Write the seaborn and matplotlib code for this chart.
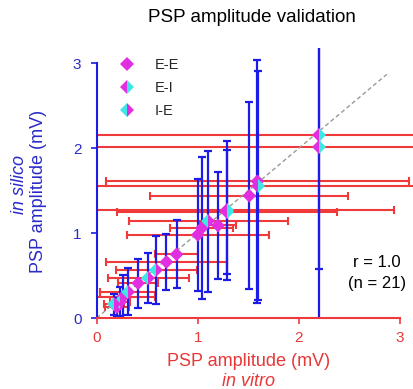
import matplotlib
matplotlib.use("Agg")
import matplotlib.pyplot as plt
from matplotlib.lines import Line2D
import seaborn as sns
import numpy as np
import pandas as pd

# ---- data ----
in_vitro = [2.20, 2.20, 1.59, 1.60, 1.51, 1.29, 1.29, 1.20, 1.105, 1.04, 1.00,
            0.79, 0.69, 0.59, 0.51, 0.41, 0.31, 0.26, 0.23, 0.20, 0.17]
in_silico = [2.16, 2.01, 1.61, 1.56, 1.44, 1.27, 1.245, 1.09, 1.14, 1.06, 0.98,
             0.75, 0.66, 0.565, 0.47, 0.41, 0.31, 0.25, 0.19, 0.13, 0.16]
sd_vitro = [2.30, 2.30, 1.50, 1.75, 0.98, 1.65, 1.09, 0.18, 0.79, 0.31, 0.70,
            0.21, 0.60, 0.40, 0.40, 0.20, 0.28, 0.32, 0.10, 0.115, 0.10]
sd_silico = [1.58, 2.10, 1.43, 1.35, 1.10, 0.82, 0.73, 0.63, 0.83, 0.84, 0.66,
             0.40, 0.33, 0.40, 0.29, 0.29, 0.28, 0.26, 0.17, 0.11, 0.12]
conn_type = ["E-I", "E-I", "E-E", "E-I", "E-E", "E-I", "E-I", "E-E", "I-E", "E-E", "E-E",
             "E-E", "E-E", "I-E", "I-E", "E-E", "I-E", "E-E", "I-E", "E-E", "I-E"]
type_names = ["E-E", "E-I", "I-E"]
ticks = [0, 1, 2, 3]
r_text = "r = 1.0\n(n = 21)"

df = pd.DataFrame({"vitro": in_vitro, "silico": in_silico,
                   "sd_vitro": sd_vitro, "sd_silico": sd_silico, "type": conn_type})

MAG = "#e02ee0"
CYA = "#3fe6e6"
RED = "#f03a3a"
BLUE = "#1c1ce6"
BLUE_TXT = "#2b2bc8"
RED_TXT = "#e83838"

sns.set_style("ticks")
plt.rcParams["font.family"] = ["Liberation Sans", "DejaVu Sans"]

fig = plt.figure(figsize=(4.14, 3.89), dpi=100)
ax = fig.add_axes([0.2336, 0.1825, 0.7665, 0.694])
ax.set_xlim(0, 3.14)
ax.set_ylim(0, 3.18)

# error bars
ax.errorbar(df["vitro"], df["silico"], xerr=df["sd_vitro"], fmt="none",
            ecolor=RED, elinewidth=1.5, capsize=2.6, capthick=1.5, zorder=2)
ax.errorbar(df["vitro"], df["silico"], yerr=df["sd_silico"], fmt="none",
            ecolor=BLUE, elinewidth=1.6, capsize=2.6, capthick=1.6, zorder=3)

# identity line
sns.lineplot(x=[0, 2.87], y=[0, 2.87], ax=ax, color="#999999", lw=1.0,
             dashes=False, linestyle=(0, (3, 2)), zorder=4)

MS = 7.0
style = {
    "E-E": dict(marker="D", markerfacecolor=MAG, fillstyle="full"),
    "E-I": dict(marker="D", markerfacecolor=MAG, markerfacecoloralt=CYA, fillstyle="left"),
    "I-E": dict(marker="D", markerfacecolor=CYA, markerfacecoloralt=MAG, fillstyle="left"),
}
ee = df[df["type"] == "E-E"]
sns.scatterplot(data=ee, x="vitro", y="silico", ax=ax, marker="D", s=MS**2,
                color=MAG, edgecolor="none", linewidth=0, zorder=5, legend=False)
for t in ["E-I", "I-E"]:
    sub = df[df["type"] == t]
    ax.plot(sub["vitro"], sub["silico"], linestyle="none", markersize=MS,
            markeredgewidth=0, zorder=5, **style[t])
ax.set_xlabel("")
ax.set_ylabel("")

handles = [Line2D([], [], linestyle="none", markersize=MS, markeredgewidth=0, **style[t])
           for t in type_names]
leg = ax.legend(handles, type_names, loc="upper left", bbox_to_anchor=(0.055, 0.983),
                frameon=False, fontsize=10.5, handletextpad=1.4, labelspacing=0.6,
                handlelength=1.0, borderaxespad=0)

ax.text(2.77, 0.53, r_text, ha="center", va="center", fontsize=12,
        color="black", linespacing=1.5)

# spines / ticks
sns.despine(ax=ax)
ax.spines["left"].set_bounds(0, 3)
ax.spines["bottom"].set_bounds(0, 3)
ax.spines["left"].set_color(BLUE)
ax.spines["bottom"].set_color(RED)
ax.spines["left"].set_linewidth(1.5)
ax.spines["bottom"].set_linewidth(1.5)
ax.spines["left"].set_zorder(6)
ax.spines["bottom"].set_zorder(6)
ax.set_xticks(ticks)
ax.set_yticks(ticks)
ax.set_xticklabels([str(t) for t in ticks])
ax.set_yticklabels([str(t) for t in ticks])
ax.tick_params(axis="x", colors=RED, labelcolor=RED_TXT, length=4, width=1.2,
               labelsize=11, pad=5)
ax.tick_params(axis="y", colors=BLUE, labelcolor=BLUE_TXT, length=4, width=1.2,
               labelsize=11, pad=7)

# axis labels
fig.text(248.5 / 414, 1 - 362 / 389, "PSP amplitude (mV)", color=RED_TXT,
         fontsize=13, ha="center", va="center")
fig.text(248.5 / 414, 1 - 382 / 389, "in vitro", color=RED_TXT,
         fontsize=13, ha="center", va="center", style="italic")
fig.text(39 / 414, 1 - 191 / 389, "PSP amplitude (mV)", color=BLUE_TXT,
         fontsize=13, ha="center", va="center", rotation=90)
fig.text(19 / 414, 1 - 184 / 389, "in silico", color=BLUE_TXT,
         fontsize=13, ha="center", va="center", rotation=90, style="italic")

fig.text(252 / 414, 1 - 18 / 389, "PSP amplitude validation", color="black",
         fontsize=13.5, ha="center", va="center")

fig.savefig("out.png", dpi=100)
